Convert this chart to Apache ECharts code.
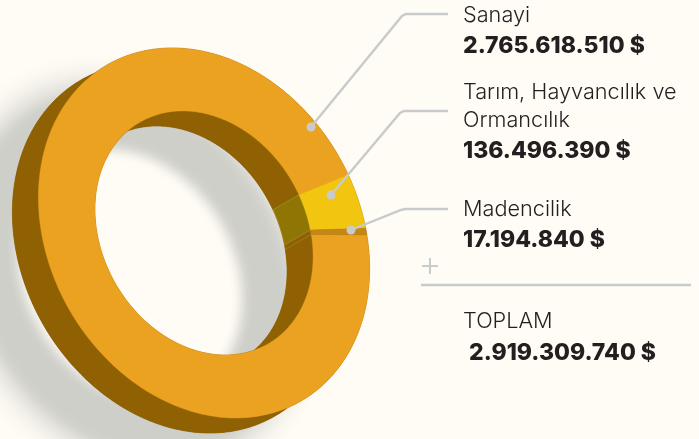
<!DOCTYPE html>
<html>
<head>
<meta charset="utf-8">
<style>
  html, body { margin: 0; padding: 0; background: #fffcf5; }
  #chart { width: 699px; height: 439px; }
</style>
<script src="https://cdn.jsdelivr.net/npm/echarts@6/dist/echarts.min.js"></script>
</head>
<body>
<div id="chart"></div>
<script>
// data
const categories = ["Sanayi", "Tarım, Hayvancılık ve\nOrmancılık", "Madencilik"];
const values = [2765618510, 136496390, 17194840];
const totalLabel = "TOPLAM";
const faceColors = ["#eca221", "#f2c511", "#c48616"];
const wallColors = ["#8f6103", "#8f7503", "#8f6103"];
const wallEdges = [null, "#a8983a", "#a8853a"];

// tilted ring geometry
const CX = 204, CY = 233;
const TILT = 60 * Math.PI / 180;
const OUTER = [194, 155];
const INNER = [128, 102];
const DEPTH = [-26, 15];
const SHADOW = [-74, 42];
const START = -64.6 * Math.PI / 180;
// soft outer edge first, tighter edge inside the hole second: [outer scale, inner scale, blur]
const SHADOW_LAYERS = [[1.04, 1.25, 30], [0.97, 1.03, 12]];

const total = values.reduce((a, b) => a + b, 0);
let acc = 0;
const slices = values.map((v, i) => {
  const from = START + acc / total * Math.PI * 2;
  acc += v;
  return [from, START + acc / total * Math.PI * 2, i];
});

function arc(radii, from, to, off) {
  const n = Math.max(2, Math.ceil(Math.abs(to - from) / 0.02));
  const pts = [];
  for (let k = 0; k <= n; k++) {
    const t = from + (to - from) * k / n;
    const u = radii[0] * Math.cos(t), w = radii[1] * Math.sin(t);
    pts.push([
      CX + off[0] + u * Math.cos(TILT) - w * Math.sin(TILT),
      CY + off[1] + u * Math.sin(TILT) + w * Math.cos(TILT)
    ]);
  }
  return pts;
}
function band(a, b) {
  return a.concat(b.slice().reverse());
}
function poly(points, fill, stroke) {
  return {
    type: "polygon",
    silent: true,
    shape: { points: points },
    style: { fill: fill, stroke: stroke || fill, lineWidth: stroke ? 0.6 : 0.4 }
  };
}

function renderShadow(params) {
  const layer = SHADOW_LAYERS[params.dataIndex];
  const from = 0, to = Math.PI * 2;
  const pts = band(
    arc(OUTER.map(r => r * layer[0]), from, to, SHADOW),
    arc(INNER.map(r => r * layer[1]), from, to, SHADOW)
  );
  return {
    type: "polygon",
    silent: true,
    shape: { points: pts.map(p => [p[0] + 2000, p[1]]) },
    style: {
      fill: "#d0d0cb",
      shadowColor: "#cfcfca",
      shadowBlur: layer[2],
      shadowOffsetX: -2000,
      shadowOffsetY: 0
    }
  };
}
function renderWalls(params, api) {
  const from = api.value(0), to = api.value(1), i = api.value(2);
  const zero = [0, 0];
  return {
    type: "group",
    children: [
      poly(band(arc(OUTER, from, to, DEPTH), arc(INNER, from, to, DEPTH)), wallColors[0]),
      poly(band(arc(OUTER, from, to, zero), arc(OUTER, from, to, DEPTH)), wallColors[0]),
      poly(band(arc(INNER, from, to, zero), arc(INNER, from, to, DEPTH)), wallColors[i], wallEdges[i])
    ]
  };
}
function renderFace(params, api) {
  const from = api.value(0), to = api.value(1), i = api.value(2);
  return poly(band(arc(OUTER, from, to, [0, 0]), arc(INNER, from, to, [0, 0])), faceColors[i]);
}

// labels and leader lines
const fmt = v => v.toLocaleString("tr-TR") + " $";
const TEXT = "#231f20", LINE = "#c8cacb";
const nameFont = '300 21.7px "Inter"';
const valueFont = '800 23px "Inter"';
const label = (x, y, text, font) => ({
  type: "text", z: 100, x: x, y: y,
  style: { text: text, fill: TEXT, font: font, textVerticalAlign: "middle", lineHeight: 28 }
});
const leader = pts => ({
  type: "polyline", z: 90, shape: { points: pts },
  style: { stroke: LINE, lineWidth: 2.4, fill: null }
});
const dot = (x, y) => ({
  type: "circle", z: 91, shape: { cx: x, cy: y, r: 4.5 }, style: { fill: LINE }
});

const chart = echarts.init(document.getElementById("chart"), null, { renderer: "canvas" });
chart.setOption({
  backgroundColor: "#fffcf5",
  animation: false,
  series: [
    { type: "custom", coordinateSystem: "none", z: 1, silent: true, clip: false, data: SHADOW_LAYERS.map((l, i) => [i]), renderItem: renderShadow },
    { type: "custom", coordinateSystem: "none", z: 2, silent: true, clip: false, data: slices, renderItem: renderWalls },
    { type: "custom", coordinateSystem: "none", z: 3, silent: true, clip: false, data: slices, renderItem: renderFace }
  ],
  graphic: [
    leader([[311, 127], [402, 16], [406, 14], [448, 14]]),
    dot(311, 127),
    leader([[331, 195], [400, 113], [404, 111], [448, 111]]),
    dot(331, 195),
    leader([[351, 230], [401, 210], [405, 209], [448, 209]]),
    dot(351, 230),
    label(463, 15, categories[0], nameFont),
    label(463, 46, fmt(values[0]), valueFont),
    label(463, 92, categories[1].split("\n")[0], nameFont),
    label(463, 120, categories[1].split("\n")[1], nameFont),
    label(463, 151, fmt(values[1]), valueFont),
    label(463, 209, categories[2], nameFont),
    label(463, 240, fmt(values[2]), valueFont),
    { type: "line", z: 90, shape: { x1: 422, y1: 266, x2: 438, y2: 266 }, style: { stroke: LINE, lineWidth: 2 } },
    { type: "line", z: 90, shape: { x1: 430, y1: 258, x2: 430, y2: 274 }, style: { stroke: LINE, lineWidth: 2 } },
    { type: "line", z: 90, shape: { x1: 421, y1: 285, x2: 691, y2: 285 }, style: { stroke: LINE, lineWidth: 2.4 } },
    label(463, 321, totalLabel, nameFont),
    label(469, 353, fmt(total), valueFont)
  ]
});
</script>
</body>
</html>
